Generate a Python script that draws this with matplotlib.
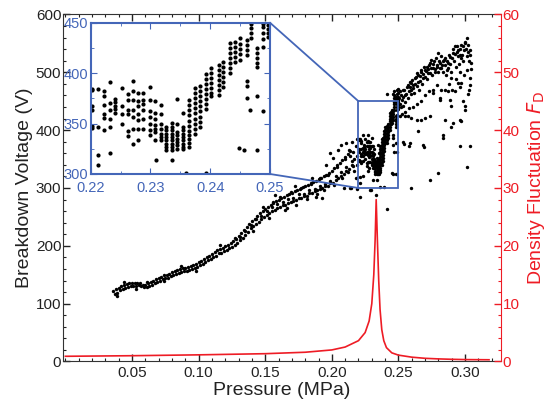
import numpy as np
import matplotlib
matplotlib.use('Agg')
import matplotlib.pyplot as plt
from matplotlib.patches import Rectangle, ConnectionPatch
from matplotlib.ticker import MultipleLocator

plt.rcParams['font.family'] = ['Liberation Sans', 'DejaVu Sans']

# low-pressure band, upper readings
p_low_up = [0.036, 0.038, 0.040, 0.042, 0.044, 0.046, 0.048, 0.050, 0.052, 0.054,
            0.056, 0.058, 0.060, 0.062, 0.064, 0.066, 0.068, 0.070, 0.072, 0.074,
            0.076, 0.078, 0.080, 0.082, 0.084, 0.086, 0.088, 0.090, 0.092, 0.094,
            0.096, 0.098, 0.100, 0.102, 0.104, 0.106, 0.108, 0.110, 0.112, 0.114,
            0.116, 0.118, 0.120, 0.122, 0.124, 0.126, 0.128, 0.130, 0.132, 0.134,
            0.136, 0.138, 0.140, 0.142, 0.144, 0.146, 0.148, 0.150, 0.152, 0.154,
            0.156, 0.158, 0.160, 0.162, 0.164, 0.166, 0.168, 0.170, 0.172, 0.174,
            0.176, 0.178, 0.180, 0.182, 0.184, 0.186, 0.188, 0.190, 0.192, 0.194,
            0.196, 0.198, 0.200, 0.202, 0.204, 0.206, 0.208, 0.210, 0.212, 0.214]
v_low_up = [122, 125, 127, 130, 132, 134, 135, 135, 136, 135,
            135, 133, 132, 135, 137, 140, 142, 145, 146, 149,
            150, 152, 154, 156, 158, 160, 161, 161, 163, 165,
            167, 169, 172, 174, 177, 180, 183, 186, 190, 192,
            195, 197, 199, 202, 205, 208, 212, 217, 222, 227,
            233, 238, 243, 247, 252, 256, 260, 264, 268, 271,
            274, 278, 280, 283, 285, 288, 289, 292, 294, 296,
            298, 301, 303, 305, 307, 310, 312, 315, 317, 320,
            322, 326, 330, 335, 339, 344, 348, 354, 358, 364]
# low-pressure band, lower readings
p_low_dn = [0.037, 0.039, 0.041, 0.043, 0.045, 0.047, 0.049, 0.051, 0.053, 0.055,
            0.057, 0.059, 0.061, 0.063, 0.065, 0.067, 0.069, 0.071, 0.073, 0.075,
            0.077, 0.079, 0.081, 0.083, 0.085, 0.087, 0.089, 0.091, 0.093, 0.095,
            0.097, 0.099, 0.101, 0.103, 0.105, 0.107, 0.109, 0.111, 0.113, 0.115,
            0.117, 0.119, 0.121, 0.123, 0.125, 0.127, 0.129, 0.131, 0.133, 0.135,
            0.137, 0.139, 0.141, 0.143, 0.145, 0.147, 0.149, 0.151, 0.153, 0.155,
            0.157, 0.159, 0.161, 0.163, 0.165, 0.167, 0.169, 0.171, 0.173, 0.175,
            0.177, 0.179, 0.181, 0.183, 0.185, 0.187, 0.189, 0.191, 0.193, 0.195,
            0.197, 0.199, 0.201, 0.203, 0.205, 0.207, 0.209, 0.211, 0.213, 0.215]
v_low_dn = [116, 119, 123, 125, 127, 129, 130, 131, 131, 132,
            130, 129, 128, 131, 132, 136, 138, 140, 142, 144,
            145, 147, 149, 151, 153, 155, 156, 157, 158, 160,
            162, 164, 166, 169, 172, 175, 178, 181, 183, 187,
            188, 191, 192, 196, 198, 202, 205, 210, 214, 219,
            224, 230, 234, 238, 241, 246, 249, 253, 256, 260,
            262, 266, 267, 270, 271, 274, 275, 278, 279, 282,
            283, 287, 287, 291, 292, 295, 296, 299, 300, 303,
            304, 308, 309, 314, 317, 321, 324, 330, 333, 340]

# extra scattered readings up to the zoomed region
p_mid = [0.131, 0.135, 0.139, 0.143, 0.147, 0.151, 0.155, 0.159, 0.163, 0.167,
         0.171, 0.175, 0.179, 0.183, 0.187, 0.191, 0.195, 0.199, 0.203, 0.207,
         0.211, 0.215, 0.217, 0.219, 0.157, 0.172, 0.185, 0.193, 0.199, 0.201,
         0.205, 0.207, 0.209, 0.211, 0.213, 0.214, 0.215, 0.216, 0.217, 0.218,
         0.219, 0.219, 0.218, 0.196, 0.188, 0.165, 0.148, 0.141, 0.127, 0.116,
         0.098, 0.087, 0.074, 0.061, 0.053, 0.044, 0.039, 0.2211, 0.2293, 0.2331,
         0.2411, 0.2286, 0.2310, 0.2360, 0.2449, 0.2186, 0.2141,
         0.161, 0.166, 0.169, 0.173, 0.177, 0.181, 0.184, 0.189, 0.191, 0.194,
         0.197, 0.202, 0.204, 0.208, 0.210, 0.212, 0.214, 0.216, 0.153, 0.156]
v_mid = [216, 226, 236, 246, 252, 260, 268, 272, 275, 281,
         283, 289, 290, 297, 299, 303, 307, 312, 320, 328,
         336, 346, 350, 356, 288, 304, 318, 282, 360, 352,
         365, 374, 300, 377, 366, 300, 380, 362, 330, 372,
         340, 385, 318, 340, 285, 262, 268, 226, 214, 201,
         157, 165, 140, 137, 126, 137, 113, 284, 297, 288,
         263, 296, 314, 301, 326, 298, 300,
         285, 265, 293, 270, 300, 281, 309, 290, 318, 296,
         322, 306, 336, 318, 350, 328, 356, 338, 248, 276]

# zoomed region: readings taken in columns at fixed pressure
p_col = [0.2203, 0.2213, 0.2222, 0.2232, 0.2241, 0.2252, 0.2262, 0.2270,
         0.2279, 0.2288, 0.2299, 0.2308, 0.2317, 0.2326, 0.2336, 0.2345,
         0.2355, 0.2365, 0.2375, 0.2383, 0.2393, 0.2402, 0.2414, 0.2422,
         0.2433, 0.2441, 0.2450, 0.2461, 0.2469, 0.2478, 0.2489, 0.2497]
v_col = [[384, 383, 367, 363, 348, 346],
         [384, 347, 319, 309],
         [382, 377, 368, 359, 356, 344],
         [391, 370, 363, 355, 347, 321],
         [374, 371, 367, 364, 360],
         [385, 367, 359, 350],
         [379, 373, 363, 359, 343, 338],
         [392, 382, 373, 363, 357, 345, 330],
         [380, 372, 367, 359, 354, 345, 334],
         [380, 373, 369, 363, 355, 345],
         [386, 373, 362, 357, 350, 344, 339],
         [372, 360, 355, 349, 345, 342, 334],
         [368, 359, 350, 345, 340, 337, 334],
         [347, 344, 340, 337, 334, 330, 327, 324],
         [351, 347, 344, 340, 337, 334, 330, 327, 324, 314],
         [374, 350, 342, 339, 335, 332, 329, 325],
         [360, 347, 344, 340, 337, 334, 330, 327, 325],
         [373, 368, 363, 358, 353, 348, 343, 339, 335, 331, 327],
         [385, 380, 375, 370, 365, 360, 355, 350, 345, 340],
         [387, 382, 377, 372, 367, 362, 357, 352, 347],
         [399, 394, 389, 384, 379, 374, 369, 364, 301],
         [405, 400, 395, 390, 385, 380, 377],
         [408, 403, 398, 393, 388, 383, 378],
         [411, 406, 401, 396, 391, 386],
         [430, 425, 420, 415, 410, 405, 400],
         [431, 426, 421, 416, 411],
         [435, 429, 424, 419, 413],
         [433, 428, 423, 418, 392, 387, 375],
         [449, 445, 440, 435, 455, 460],
         [425, 420, 415, 410, 406, 377, 324],
         [449, 446, 440, 434, 426, 362, 455, 462],
         [448, 444, 440, 436, 452, 458]]

# high-pressure readings
p_high = [0.2411, 0.2460, 0.2470, 0.2480, 0.2490, 0.2495, 0.2500, 0.2485, 0.2475,
          0.2511, 0.2536, 0.2548, 0.2573, 0.2586, 0.2598, 0.2611, 0.2623, 0.2636, 0.2648,
          0.2661, 0.2673, 0.2686, 0.2698, 0.2711, 0.2723, 0.2736, 0.2748, 0.2761, 0.2773,
          0.2786, 0.2798, 0.2811, 0.2823, 0.2836, 0.2848, 0.2861, 0.2873, 0.2886, 0.2898,
          0.2911, 0.2923, 0.2936, 0.2948, 0.2961, 0.2973, 0.2986, 0.2998, 0.3011, 0.3023,
          0.3036, 0.3048, 0.3011, 0.2973, 0.2961,
          0.2548, 0.2573, 0.2598, 0.2636, 0.2673, 0.2698, 0.2736, 0.2648, 0.2536, 0.2586,
          0.2686, 0.2761, 0.2811, 0.2848, 0.2886, 0.2898, 0.2911, 0.2898, 0.2836, 0.2836,
          0.2961, 0.2973, 0.2986, 0.2998, 0.2998, 0.2961, 0.3036, 0.3011, 0.2798, 0.2736,
          0.2598, 0.2811, 0.2873, 0.2923, 0.2948, 0.2466, 0.2456, 0.2540, 0.2580, 0.2690,
          0.2505, 0.2512, 0.2518, 0.2525, 0.2532, 0.2538, 0.2545, 0.2552, 0.2558, 0.2565,
          0.2572, 0.2578, 0.2585, 0.2592, 0.2598, 0.2605, 0.2612, 0.2618, 0.2625, 0.2632,
          0.2640, 0.2648, 0.2655, 0.2662, 0.2670, 0.2678, 0.2685, 0.2692, 0.2700, 0.2708,
          0.2715, 0.2722, 0.2730, 0.2738, 0.2745, 0.2752, 0.2760, 0.2768, 0.2775, 0.2782,
          0.2790, 0.2798, 0.2805, 0.2812, 0.2820, 0.2828, 0.2835, 0.2842, 0.2850, 0.2858,
          0.2865, 0.2872, 0.2880, 0.2888, 0.2895, 0.2902, 0.2910, 0.2918, 0.2925, 0.2932,
          0.2940, 0.2948, 0.2955, 0.2962, 0.2970, 0.2978, 0.2985, 0.2992, 0.3000, 0.3008,
          0.3015, 0.3022, 0.3030, 0.3038, 0.3045, 0.3040, 0.3035, 0.3028, 0.3020, 0.2990,
          0.2960, 0.2930, 0.2900, 0.2880, 0.2850, 0.2820, 0.2790, 0.2760, 0.2730, 0.2700,
          0.2670, 0.2640, 0.2610, 0.2580, 0.2550, 0.2530, 0.2520, 0.2510]
v_high = [462, 462, 468, 458, 470, 465, 472, 452, 455,
          467, 470, 461, 478, 475, 481, 473, 490, 499, 484,
          493, 504, 490, 504, 510, 499, 516, 522, 507, 501,
          510, 533, 516, 507, 519, 525, 504, 516, 527, 501,
          533, 545, 536, 539, 530, 525, 545, 550, 559, 536,
          539, 516, 504, 481, 475,
          424, 424, 421, 418, 418, 421, 424, 398, 380, 377,
          375, 464, 455, 418, 452, 441, 412, 406, 392, 386,
          418, 415, 450, 435, 441, 372, 372, 337, 326, 314,
          300, 452, 467, 467, 481, 363, 324, 376, 373, 371,
          455, 446, 460, 452, 441, 458, 470, 449, 463, 475,
          455, 468, 484, 462, 470, 487, 478, 465, 480, 492,
          476, 495, 470, 485, 500, 480, 497, 510, 492, 503,
          488, 505, 512, 498, 508, 495, 515, 520, 505, 525,
          512, 500, 520, 507, 528, 512, 500, 522, 513, 495,
          520, 508, 530, 515, 490, 525, 540, 520, 532, 510,
          545, 528, 515, 540, 548, 530, 520, 538, 552, 540,
          528, 548, 520, 530, 505, 490, 478, 470, 462, 495,
          500, 488, 470, 480, 470, 470, 478, 470, 468, 460,
          450, 445, 440, 438, 432, 428, 440, 425]

# density fluctuation curve
p_fd = [0.0, 0.05, 0.10, 0.15, 0.18, 0.20, 0.21, 0.22, 0.225, 0.228, 0.230,
        0.2315, 0.2325, 0.2333, 0.2342, 0.2352, 0.2362, 0.2375, 0.239, 0.241,
        0.245, 0.25, 0.26, 0.27, 0.28, 0.29, 0.30, 0.318]
fd = [0.9, 1.0, 1.15, 1.35, 1.6, 2.0, 2.5, 3.6, 5.0, 7.0, 10.0,
      15.0, 21.0, 28.0, 21.0, 14.0, 9.0, 5.5, 3.6, 2.4,
      1.5, 1.1, 0.75, 0.55, 0.45, 0.38, 0.33, 0.3]

p_all = p_low_up + p_low_dn + p_mid + p_high
v_all = v_low_up + v_low_dn + v_mid + v_high
for p, vs in zip(p_col, v_col):
    p_all += [p] * len(vs)
    v_all += vs

blue = '#4466b8'
red = '#ee1c25'
dark = '#222222'

fig = plt.figure(figsize=(5.53, 4.07), dpi=100)
ax = fig.add_axes([0.1134, 0.1118, 0.7926, 0.8526])
ax.scatter(p_all, v_all, s=6, color='black', linewidths=0, zorder=3)
ax.set_xlim(-0.002, 0.327)
ax.set_ylim(0, 600)
ax.xaxis.set_minor_locator(MultipleLocator(0.01))
ax.yaxis.set_major_locator(MultipleLocator(100))
ax.yaxis.set_minor_locator(MultipleLocator(20))
ax.set_xticks([0.05, 0.10, 0.15, 0.20, 0.25, 0.30])
ax.set_xticklabels(['0.05', '0.10', '0.15', '0.20', '0.25', '0.30'])
ax.tick_params(which='both', direction='in', top=True, right=False,
               labelsize=11, colors=dark, pad=3)
ax.tick_params(axis='y', pad=1)
ax.tick_params(which='major', length=5, width=1)
ax.tick_params(which='minor', length=2.5, width=0.8)
for s in ['left', 'bottom', 'top']:
    ax.spines[s].set_color('#333333')
ax.spines['right'].set_visible(False)
ax.set_xlabel('Pressure (MPa)', fontsize=14, color=dark, labelpad=2)
ax.set_ylabel('Breakdown Voltage (V)', fontsize=14, color=dark, labelpad=2)
fig.canvas.draw()
ax.get_yticklabels()[0].set_va('top')

# zoom rectangle
ax.add_patch(Rectangle((0.22, 300), 0.03, 150, fill=False, edgecolor=blue,
                       linewidth=1.3, zorder=4))

ax2 = ax.twinx()
ax2.plot(p_fd, fd, color=red, linewidth=1.2)
ax2.set_ylim(0, 60)
ax2.yaxis.set_major_locator(MultipleLocator(10))
ax2.yaxis.set_minor_locator(MultipleLocator(2))
ax2.tick_params(which='both', direction='in', colors=red, labelsize=11, pad=1)
ax2.tick_params(which='major', length=5, width=1)
ax2.tick_params(which='minor', length=2.5, width=0.8)
for s in ['left', 'bottom', 'top']:
    ax2.spines[s].set_visible(False)
ax2.spines['right'].set_color(red)
ax2.set_ylabel('Density Fluctuation $\\mathit{F}_{\\mathrm{D}}$', fontsize=14,
               color=red, labelpad=4)

# inset
axi = fig.add_axes([0.164, 0.5725, 0.3242, 0.3717], zorder=5)
axi.scatter(p_all, v_all, s=9, color='black', linewidths=0)
axi.set_xlim(0.22, 0.25)
axi.set_ylim(300, 450)
axi.set_xticks([0.22, 0.23, 0.24, 0.25])
axi.set_xticklabels(['0.22', '0.23', '0.24', '0.25'])
axi.set_yticks([300, 350, 400, 450])
axi.xaxis.set_minor_locator(MultipleLocator(0.005))
axi.yaxis.set_minor_locator(MultipleLocator(25))
axi.tick_params(which='both', direction='in', top=True, right=True,
                colors=blue, labelsize=10.5)
axi.tick_params(axis='x', pad=5)
axi.tick_params(axis='y', pad=2)
axi.tick_params(which='major', length=4)
axi.tick_params(which='minor', length=2)
for s in axi.spines.values():
    s.set_color(blue)
    s.set_linewidth(1.5)

for yv in [450, 300]:
    con = ConnectionPatch(xyA=(0.25, yv), coordsA=axi.transData,
                          xyB=(0.22, yv), coordsB=ax.transData,
                          color=blue, linewidth=1.3)
    fig.add_artist(con)

fig.savefig('out.png', dpi=100)
